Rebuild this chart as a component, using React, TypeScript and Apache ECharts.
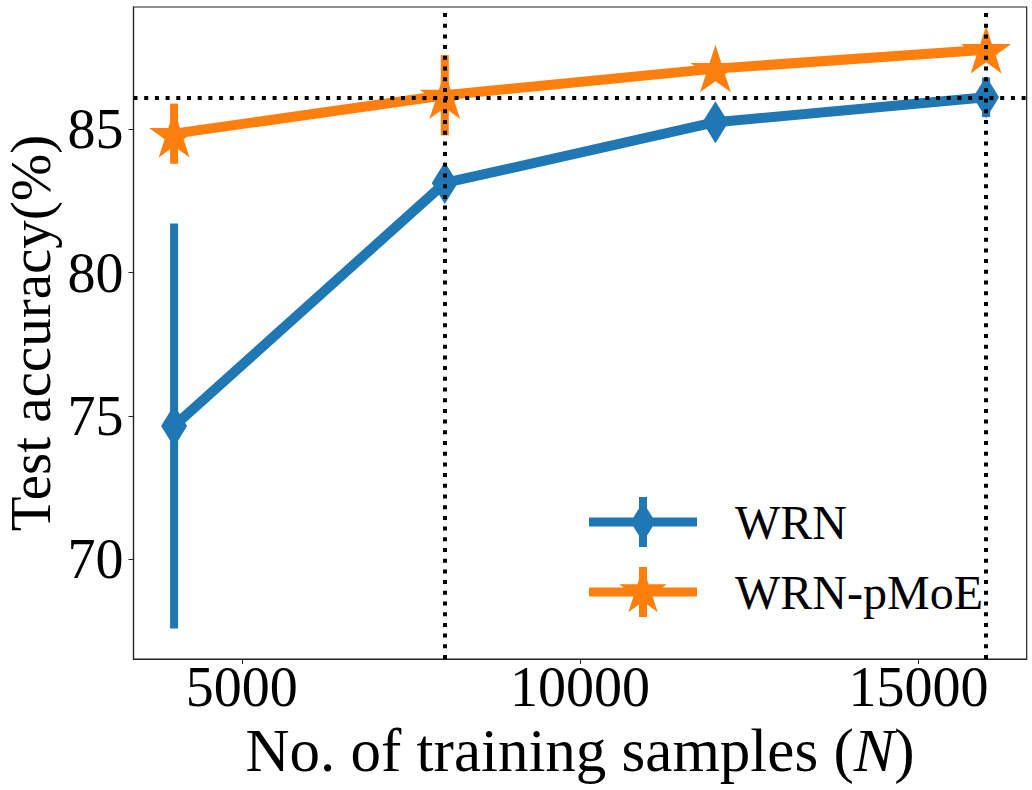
import React, { useEffect, useRef } from "react";
import * as echarts from "echarts";

// ---- data ----
const samples = [4000, 8000, 12000, 16000];
const wrnMean = [74.65, 83.13, 85.25, 86.12];
const wrnErr = [7.07, 0.45, 0.35, 0.69];
const pmoeMean = [84.85, 86.19, 87.12, 87.78];
const pmoeErr = [1.05, 1.4, 0.3, 0.3];
const xTicks = [5000, 10000, 15000];
const yTicks = [70, 75, 80, 85];
const vRefs = [8000, 16000];
const hRef = 86.12;

const BLUE = "#1f77b4";
const ORANGE = "#ff7f0e";
const FONT = "Liberation Serif";

// legend icons (line + marker + error bar), in a 108x50 box
const wrnIcon =
  "path://M0,20.5H108V29.5H0Z M50,0H58V50H50Z M54,5L66.5,25L54,45L41.5,25Z";
const starIcon =
  "path://M0,20.5H108V29.5H0Z M50,0H58V50H50Z " +
  "M54,0L59.6,17.29L77.78,17.27L63.06,27.94L68.69,45.23L54,34.53L39.31,45.23L44.94,27.94L30.22,17.27L48.4,17.29Z";
const starSymbol =
  "path://M0,-1L0.224,-0.308L0.951,-0.309L0.362,0.118L0.588,0.809L0,0.381L-0.588,0.809L-0.362,0.118L-0.951,-0.309L-0.224,-0.308Z";

function errSeries(name: string, mean: number[], err: number[], color: string) {
  return {
    type: "custom",
    name,
    z: 2,
    silent: true,
    data: samples.map((x, i) => [x, mean[i] - err[i], mean[i] + err[i]]),
    renderItem: (params: any, api: any) => {
      const p1 = api.coord([api.value(0), api.value(1)]);
      const p2 = api.coord([api.value(0), api.value(2)]);
      return {
        type: "line",
        shape: { x1: p1[0], y1: p1[1], x2: p2[0], y2: p2[1] },
        style: { stroke: color, lineWidth: 8, lineCap: "butt" },
      };
    },
  };
}

export default function App() {
  const ref = useRef<HTMLDivElement>(null);
  useEffect(() => {
    if (!ref.current) return;
    const chart = echarts.init(ref.current, null, { renderer: "svg" });
    chart.setOption({
      animation: false,
      backgroundColor: "#ffffff",
      grid: {
        left: 133.5,
        right: 5.3,
        top: 7,
        bottom: 131,
        containLabel: false,
        outerBoundsMode: "none",
        show: true,
        borderColor: "#222",
        borderWidth: 1.2,
        backgroundColor: "transparent",
      },
      xAxis: {
        type: "value",
        min: 3400,
        max: 16600,
        name: "No. of training samples ({i|N})",
        nameLocation: "middle",
        nameGap: 48,
        nameTextStyle: {
          fontFamily: FONT,
          fontSize: 61,
          color: "#000",
          rich: { i: { fontFamily: FONT, fontSize: 61, fontStyle: "italic", color: "#000" } },
        },
        axisLine: { show: true, lineStyle: { color: "#222", width: 1.2 } },
        axisTick: { show: true, length: 5, lineStyle: { color: "#222" }, customValues: xTicks },
        axisLabel: {
          fontFamily: FONT,
          fontSize: 56,
          color: "#000",
          margin: 0,
          customValues: xTicks,
          formatter: (v: number) => String(v),
        },
        splitLine: { show: false },
      },
      yAxis: {
        type: "value",
        min: 66.52,
        max: 89.27,
        name: "Test accuracy(%)",
        nameLocation: "middle",
        nameGap: 75,
        nameMoveOverlap: false,
        nameTextStyle: { fontFamily: FONT, fontSize: 57, lineHeight: 57, color: "#000" },
        axisLine: { show: true, lineStyle: { color: "#222", width: 1.2 } },
        axisTick: { show: true, length: 5, lineStyle: { color: "#222" }, customValues: yTicks },
        axisLabel: {
          fontFamily: FONT,
          fontSize: 56,
          color: "#000",
          margin: 10,
          customValues: yTicks,
          formatter: (v: number) => String(v),
        },
        splitLine: { show: false },
      },
      legend: {
        orient: "vertical",
        left: 584,
        top: 492,
        itemWidth: 108,
        itemHeight: 50,
        itemGap: 20,
        itemStyle: { borderWidth: 0 },
        textStyle: { fontFamily: FONT, fontSize: 48, color: "#000", padding: [0, 0, 0, 33] },
        data: [
          { name: "WRN", icon: wrnIcon },
          { name: "WRN-pMoE", icon: starIcon },
        ],
      },
      series: [
        errSeries("WRN err", wrnMean, wrnErr, BLUE),
        errSeries("WRN-pMoE err", pmoeMean, pmoeErr, ORANGE),
        {
          type: "line",
          name: "WRN",
          z: 3,
          data: samples.map((x, i) => [x, wrnMean[i]]),
          symbol: "diamond",
          symbolSize: [26, 42],
          showSymbol: true,
          color: BLUE,
          itemStyle: { color: BLUE, borderWidth: 0 },
          lineStyle: { color: BLUE, width: 10 },
        },
        {
          type: "line",
          name: "WRN-pMoE",
          z: 3,
          data: samples.map((x, i) => [x, pmoeMean[i]]),
          symbol: starSymbol,
          symbolSize: [50, 47.5],
          showSymbol: true,
          color: ORANGE,
          itemStyle: { color: ORANGE, borderWidth: 0 },
          lineStyle: { color: ORANGE, width: 10 },
        },
        {
          type: "line",
          name: "refs",
          z: 10,
          data: [],
          silent: true,
          markLine: {
            silent: true,
            symbol: ["none", "none"],
            label: { show: false },
            lineStyle: { color: "#000", width: 4, type: [4, 6.7], cap: "butt" },
            emphasis: { disabled: true },
            data: [...vRefs.map((v) => ({ xAxis: v })), { yAxis: hRef }],
          },
        },
      ],
    });
    return () => chart.dispose();
  }, []);
  return (
    <div
      ref={ref}
      style={{ position: "absolute", left: 0, top: 0, width: 1032, height: 790, background: "#fff" }}
    />
  );
}
